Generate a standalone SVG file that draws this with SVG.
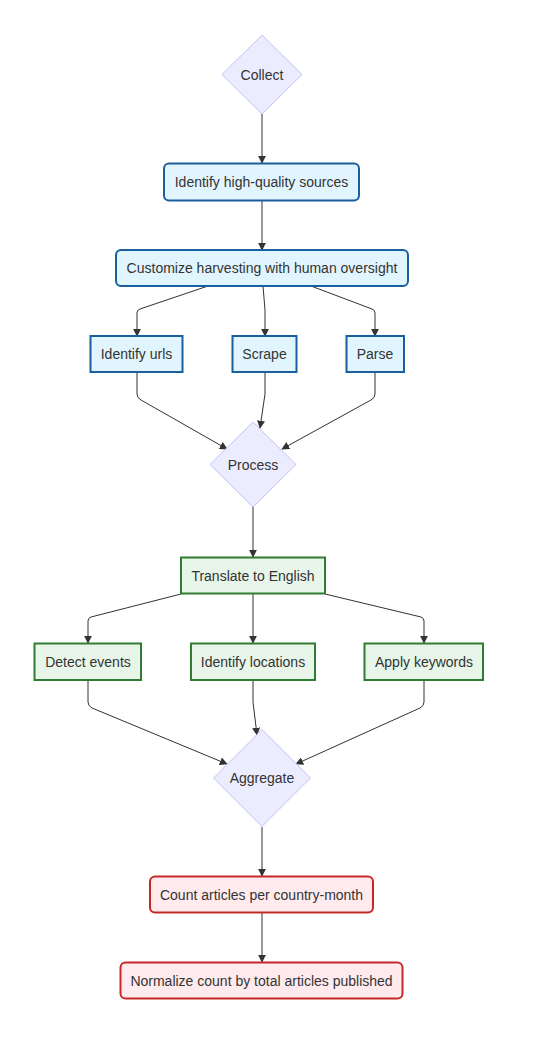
<svg xmlns="http://www.w3.org/2000/svg" width="543" height="1061" viewBox="0 0 543 1061">
<style>
text{font-family:"Liberation Sans",Arial,sans-serif;font-size:14px;fill:#333;text-anchor:middle;dominant-baseline:central}
.dia{fill:#ececff;stroke:#c4c0f2;stroke-width:1}
.blue{fill:#e1f5fe;stroke:#1a5e9c;stroke-width:2}
.green{fill:#e8f5e9;stroke:#2e7d32;stroke-width:2}
.red{fill:#ffebee;stroke:#c62828;stroke-width:2}
.edge{fill:none;stroke:#333;stroke-width:1}
</style>
<defs>
<marker id="arr" viewBox="0 0 10 10" refX="9" refY="5" markerWidth="8" markerHeight="8" markerUnits="userSpaceOnUse" orient="auto">
<path d="M0,0 L10,5 L0,10 z" fill="#333"/>
</marker>
</defs>
<rect width="543" height="1061" fill="#fff"/>
<g id="connectors">
<path class="edge" marker-end="url(#arr)" d="M262,114 L262,163"/>
<path class="edge" marker-end="url(#arr)" d="M262,200 L262,250"/>
<path class="edge" marker-end="url(#arr)" d="M208,286 L140,309 Q137,310 137,313 L137,336"/>
<path class="edge" marker-end="url(#arr)" d="M263,286 L265,310 L265,336"/>
<path class="edge" marker-end="url(#arr)" d="M311,286 L372,309 Q375,310 375,313 L375,336"/>
<path class="edge" marker-end="url(#arr)" d="M137,372 L137,394 Q137,398 141,400 L227,449"/>
<path class="edge" marker-end="url(#arr)" d="M265,372 L265,394 L260,428"/>
<path class="edge" marker-end="url(#arr)" d="M375,372 L375,394 Q375,398 371,400 L282,449"/>
<path class="edge" marker-end="url(#arr)" d="M253,507 L253,557"/>
<path class="edge" marker-end="url(#arr)" d="M181,594 L91,617 Q88,618 88,621 L88,643"/>
<path class="edge" marker-end="url(#arr)" d="M253,594 L253,643"/>
<path class="edge" marker-end="url(#arr)" d="M325,594 L421,617 Q424,618 424,621 L424,643"/>
<path class="edge" marker-end="url(#arr)" d="M88,680 L88,702 Q88,706 92,708 L227,764"/>
<path class="edge" marker-end="url(#arr)" d="M253,680 L253,702 L257,735"/>
<path class="edge" marker-end="url(#arr)" d="M424,680 L424,702 Q424,706 420,708 L296,764"/>
<path class="edge" marker-end="url(#arr)" d="M262,827 L262,876"/>
<path class="edge" marker-end="url(#arr)" d="M262,913 L262,962"/>
</g>
<g id="collect"><polygon class="dia" points="262,35 302,74.5 262,114 222,74.5"/><text x="262" y="74.5">Collect</text></g>
<g id="identify-sources"><rect class="blue" x="164" y="163.5" width="195" height="37" rx="5"/><text x="261.5" y="182">Identify high-quality sources</text></g>
<g id="customize"><rect class="blue" x="116" y="250" width="292" height="36" rx="5"/><text x="262" y="268">Customize harvesting with human oversight</text></g>
<g id="identify-urls"><rect class="blue" x="90.5" y="336" width="92" height="36"/><text x="136.5" y="354">Identify urls</text></g>
<g id="scrape"><rect class="blue" x="232.5" y="336" width="64" height="36"/><text x="264.5" y="354">Scrape</text></g>
<g id="parse"><rect class="blue" x="346.5" y="336" width="57.5" height="36"/><text x="375" y="354">Parse</text></g>
<g id="process"><polygon class="dia" points="253,422 296,464.5 253,507 210,464.5"/><text x="253" y="464.5">Process</text></g>
<g id="translate"><rect class="green" x="181" y="557.5" width="144" height="36"/><text x="253" y="575.5">Translate to English</text></g>
<g id="detect-events"><rect class="green" x="34.5" y="643.5" width="106.5" height="36.5"/><text x="88" y="662">Detect events</text></g>
<g id="identify-locations"><rect class="green" x="191" y="643.5" width="124" height="36.5"/><text x="253" y="662">Identify locations</text></g>
<g id="apply-keywords"><rect class="green" x="364.5" y="643.5" width="118.5" height="36.5"/><text x="424" y="662">Apply keywords</text></g>
<g id="aggregate"><polygon class="dia" points="262,729.5 310.5,778 262,826.5 213.5,778"/><text x="262" y="778">Aggregate</text></g>
<g id="count"><rect class="red" x="150" y="876.5" width="223" height="36" rx="5"/><text x="261.5" y="894.5">Count articles per country-month</text></g>
<g id="normalize"><rect class="red" x="120.5" y="962.5" width="282" height="36" rx="5"/><text x="261.5" y="980.5">Normalize count by total articles published</text></g>
</svg>
